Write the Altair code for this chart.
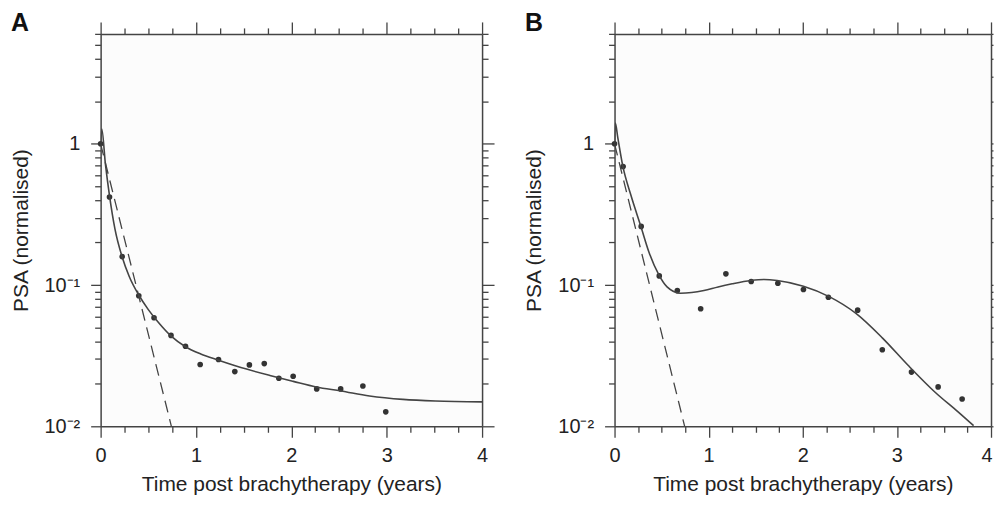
import altair as alt
import pandas as pd

# ---------------- data ----------------
# Panel A: measured PSA (normalised)
a_pts_t = [0, 0.093, 0.226, 0.40, 0.56, 0.738, 0.89, 1.044, 1.236, 1.407, 1.56, 1.716,
           1.869, 2.019, 2.266, 2.517, 2.75, 2.99]
a_pts_v = [1.0, 0.42, 0.159, 0.084, 0.0587, 0.044, 0.0369, 0.0274, 0.0297, 0.0244, 0.0272,
           0.0278, 0.0219, 0.0226, 0.0184, 0.0184, 0.0193, 0.01265]
# Panel A: fitted model (solid)
a_fit_t = [0, 0.012, 0.05, 0.093, 0.15, 0.226, 0.3, 0.4, 0.5, 0.6, 0.74, 0.89, 1.05, 1.236,
           1.53, 1.775, 2.02, 2.26, 2.52, 2.82, 3.17, 3.51, 4.0]
a_fit_v = [1.0, 1.27, 0.72, 0.43, 0.25, 0.158, 0.115, 0.085, 0.067, 0.055, 0.0435, 0.0366,
           0.0325, 0.0294, 0.0254, 0.0229, 0.0208, 0.019, 0.0178, 0.0164, 0.0155, 0.0151, 0.0149]
# Panel A: initial exponential (dashed)
a_dash_t = [0, 0.742]
a_dash_v = [1.0, 0.01]

# Panel B
b_pts_t = [0, 0.091, 0.283, 0.475, 0.667, 0.915, 1.183, 1.452, 1.735, 2.007, 2.272, 2.583,
           2.845, 3.155, 3.438, 3.693]
b_pts_v = [1.0, 0.69, 0.26, 0.116, 0.0915, 0.068, 0.12, 0.106, 0.103, 0.093, 0.082, 0.0664,
           0.0348, 0.0242, 0.019, 0.0156]
b_fit_t = [0, 0.008, 0.035, 0.087, 0.175, 0.28, 0.367, 0.471, 0.558, 0.70, 0.82, 0.95, 1.1,
           1.25, 1.448, 1.588, 1.728, 2.007, 2.286, 2.565, 2.845, 3.124, 3.403, 3.647, 3.815]
b_fit_v = [1.0, 1.40, 1.10, 0.70, 0.43, 0.26, 0.17, 0.118, 0.097, 0.0875, 0.0885, 0.0915, 0.097,
           0.102, 0.1076, 0.1094, 0.1076, 0.098, 0.0825, 0.063, 0.0423, 0.0268, 0.0175, 0.0127,
           0.0101]
b_dash_t = [0, 0.745]
b_dash_v = [1.0, 0.01]

x_tick_values = [0, 0.25, 0.5, 0.75, 1, 1.25, 1.5, 1.75, 2, 2.25, 2.5, 2.75, 3, 3.25, 3.5,
                 3.75, 4]
y_tick_values = [0.01, 0.02, 0.03, 0.04, 0.05, 0.06, 0.07, 0.08, 0.09,
                 0.1, 0.2, 0.3, 0.4, 0.5, 0.6, 0.7, 0.8, 0.9,
                 1, 2, 3, 4, 5, 6]

x_title = "Time post brachytherapy (years)"
y_title = "PSA (normalised)"
panel_letters = ["A", "B"]

# ---------------- styling ----------------
FONT = "Liberation Sans"
AXC = "#444444"
TXT = "#222222"
MARKC = "#333333"

x_major = "datum.value % 1 === 0"
y_major = "datum.value == 1 || datum.value == 0.1 || datum.value == 0.01"
y_label = ("datum.value == 1 ? '1' : datum.value == 0.1 ? '10\u207b\u00b9' : "
           "datum.value == 0.01 ? '10\u207b\u00b2' : ''")

common_axis = dict(domainColor=AXC, domainWidth=1.5, tickColor=AXC, tickWidth=1.3,
                   grid=False, labelFont=FONT, labelFontSize=20, labelColor=TXT,
                   titleFont=FONT, titleFontSize=21, titleFontWeight="normal",
                   titleColor=TXT)


def panel(letter, pt, pv, ft, fv, dt, dv, width, right_tick_major, right_tick_minor,
          last_label_inside):
    xs = alt.Scale(domain=[0, 4], nice=False, zero=False)
    ys = alt.Scale(type="log", domain=[0.01, 6], nice=False)

    extra = {}
    if last_label_inside:
        extra = dict(
            labelAlign={"condition": {"test": "datum.value == 4", "value": "right"},
                        "value": "center"},
            labelOffset={"condition": {"test": "datum.value == 4", "value": 1}, "value": 0},
        )
    ax_bottom = alt.Axis(orient="bottom", values=x_tick_values,
                         labelExpr="datum.value % 1 === 0 ? format(datum.value, 'd') : ''",
                         tickSize={"condition": {"test": x_major, "value": 11}, "value": 6},
                         labelPadding=8, titlePadding=8, title=x_title,
                         labelFlush=False, labelOverlap=False, **extra, **common_axis)
    ax_left = alt.Axis(orient="left", values=y_tick_values, labelExpr=y_label,
                       tickSize={"condition": {"test": y_major, "value": 10}, "value": 6},
                       labelPadding=11, titlePadding=13, title=y_title,
                       labelFlush=False, labelOverlap=False, **common_axis)
    ax_top = alt.Axis(orient="top", values=x_tick_values, labels=False, title=None,
                      tickSize={"condition": {"test": x_major, "value": 12}, "value": 6},
                      **common_axis)
    ax_right = alt.Axis(orient="right", values=y_tick_values, labels=False, title=None,
                        tickSize={"condition": {"test": y_major, "value": right_tick_major},
                                  "value": right_tick_minor},
                        **common_axis)

    dfp = pd.DataFrame({"t": pt, "v": pv})
    dff = pd.DataFrame({"t": ft, "v": fv})
    dfd = pd.DataFrame({"t": dt, "v": dv})
    dfl = pd.DataFrame({"label": [letter]})

    pts = alt.Chart(dfp).mark_circle(size=32, color=MARKC, opacity=1).encode(
        x=alt.X("t:Q", scale=xs, axis=ax_bottom),
        y=alt.Y("v:Q", scale=ys, axis=ax_left),
    )
    fit = alt.Chart(dff).mark_line(color=AXC, strokeWidth=1.6, interpolate="monotone",
                                   clip=True).encode(
        x=alt.X("t:Q", scale=xs, axis=ax_top),
        y=alt.Y("v:Q", scale=ys, axis=ax_right),
    )
    dash = alt.Chart(dfd).mark_line(color=AXC, strokeWidth=1.3, strokeDash=[12, 7],
                                    clip=True).encode(
        x=alt.X("t:Q", scale=xs, axis=None),
        y=alt.Y("v:Q", scale=ys, axis=None),
    )
    tag = alt.Chart(dfl).mark_text(font=FONT, fontSize=25, fontWeight="bold",
                                   color="#111111", align="left",
                                   baseline="top").encode(
        text="label:N", x=alt.value(-90), y=alt.value(-23),
    )
    return alt.layer(pts, fit, dash, tag).resolve_axis(
        x="independent", y="independent").properties(width=width, height=394)


chart = alt.hconcat(
    panel(panel_letters[0], a_pts_t, a_pts_v, a_fit_t, a_fit_v, a_dash_t, a_dash_v,
          383, 12, 6, False),
    panel(panel_letters[1], b_pts_t, b_pts_v, b_fit_t, b_fit_v, b_dash_t, b_dash_v,
          378, 2, 2, True),
    spacing=29,
).properties(
    padding={"left": 2, "top": 2, "right": 0, "bottom": 0},
    background="white",
).configure_view(stroke=None, fill="#fcfcfc")

chart.save("out.html", embed_options={"renderer": "svg", "actions": False})
